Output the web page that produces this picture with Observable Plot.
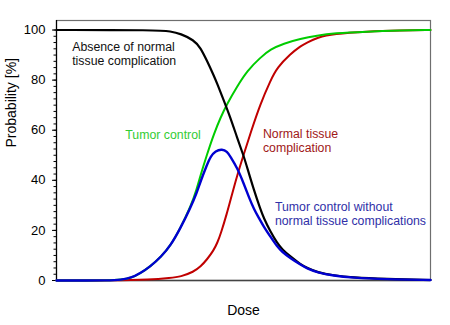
<!DOCTYPE html>
<html>
<head>
<meta charset="utf-8">
<script src="https://cdn.jsdelivr.net/npm/d3@7"></script>
<script src="https://cdn.jsdelivr.net/npm/@observablehq/plot@0.6"></script>
<style>
  html, body { margin: 0; padding: 0; background: #ffffff; }
  #chart { width: 450px; height: 325px; }
</style>
</head>
<body>
<div id="chart"></div>
<script>
// ---- Data (dose in arbitrary units 0..100, probability in %) ----
const tcpDose = [0, 15, 17, 20, 22.5, 25, 28, 30.5, 33, 36, 37.5, 38.5, 40.3, 42.1, 43.9, 45.6, 48.3, 51, 54.5, 57.2, 60.7, 65.2, 69.7, 74.1, 83, 92, 100];
const tcpProb = [0, 0, 0.3, 1, 3, 5.5, 9.5, 14, 20.5, 30, 36.5, 42, 50.6, 58.6, 65.2, 70.5, 77.5, 83.8, 89, 92.3, 94.6, 96.5, 97.8, 98.7, 99.4, 99.8, 100];

const ntcpDose = [0, 15, 25, 30.5, 33.2, 36.7, 38.5, 40.3, 42, 43, 44, 45.6, 46.5, 48.3, 50.1, 51.9, 54.5, 57.2, 59, 62.6, 65.2, 67, 69.7, 74.1, 83, 92, 100];
const ntcpProb = [0, 0, 0.3, 1, 1.5, 3.5, 5.5, 8.5, 12, 15, 19, 27, 32, 42, 50.5, 59, 70.5, 79.8, 85, 90.5, 93.5, 95, 97, 98.5, 99.4, 99.8, 100];

const absDose = [0, 27, 30.5, 33.2, 36.7, 38.5, 40.3, 42, 43, 44.7, 46.5, 48.3, 50.1, 51, 52.8, 54.5, 55.4, 57.2, 59, 60.3, 62.6, 65.2, 67, 69.7, 74.1, 79, 88, 100];
const absProb = [100, 100, 99.5, 98.5, 96, 93, 87.5, 82, 78.5, 72, 65, 57, 49.5, 45, 36, 28.5, 25, 19.5, 15, 12.5, 9.5, 6.5, 5, 3.3, 2, 1.2, 0.6, 0.2];

const uncDose = [0, 15, 17, 20, 22.5, 25, 28, 30.5, 33, 35.8, 37.5, 38.5, 40.3, 41.2, 42.5, 44.3, 45.6, 46.5, 48.3, 50.1, 51.5, 52.8, 54.1, 55.4, 57.2, 59, 60.3, 62.6, 65.6, 67, 69.7, 74.1, 79, 88, 100];
const uncProb = [0, 0, 0.3, 1, 3, 5.5, 9.5, 14, 20.5, 29, 35, 39.5, 46.5, 49.5, 51.8, 52.5, 51.5, 49.5, 45, 38.6, 33, 28.5, 25, 21.5, 17.5, 13.5, 11.5, 8.8, 6, 4.8, 3.2, 1.9, 1.1, 0.5, 0.2];

const yMajorTicks = [0, 20, 40, 60, 80, 100];
const yMinorTicks = d3.range(0, 100.01, 2.5);

const labelText = ["Absence of normal\ntissue complication", "Tumor control", "Normal tissue\ncomplication", "Tumor control without\nnormal tissue complications"];
const labelDose = [4.2, 18.4, 55.2, 58.4];
const labelProb = [90.7, 58.5, 56.0, 26.9];
const labelColor = ["#111111", "#33cc33", "#a01818", "#3030a8"];

const xTitle = "Dose";
const yTitle = "Probability [%]";

// ---- Build tables ----
const toRows = (xs, ys) => xs.map((d, i) => ({dose: d, p: ys[i]}));
const tcp = toRows(tcpDose, tcpProb);
const ntcp = toRows(ntcpDose, ntcpProb);
const abs = toRows(absDose, absProb);
const unc = toRows(uncDose, uncProb);
const labels = labelText.map((t, i) => ({t, dose: labelDose[i], p: labelProb[i], c: labelColor[i]}));

const font = "'Liberation Sans', Arial, Helvetica, sans-serif";

const chart = Plot.plot({
  width: 450,
  height: 325,
  marginLeft: 56,
  marginRight: 20,
  marginTop: 20,
  marginBottom: 45,
  style: {fontFamily: font, fontSize: "13px", background: "#ffffff", color: "#000"},
  x: {domain: [0, 100], axis: null},
  y: {domain: [0, 103.8], axis: null},
  marks: [
    Plot.frame({stroke: "#6e6e6e", strokeWidth: 1.2}),
    Plot.ruleY([0], {stroke: "#444", strokeWidth: 1.4}),
    Plot.axisY({ticks: yMinorTicks, tickSize: 2.5, tickFormat: () => "", label: null, stroke: "#000"}),
    Plot.axisY({ticks: yMajorTicks, tickSize: 4, tickPadding: 7, label: null, fontSize: 13, stroke: "#000"}),
    Plot.ruleX([0], {stroke: "#000", strokeWidth: 1.2}),
    Plot.line(ntcp, {x: "dose", y: "p", stroke: "#c00000", strokeWidth: 2, curve: "basis"}),
    Plot.line(tcp, {x: "dose", y: "p", stroke: "#00cc00", strokeWidth: 2, curve: "basis"}),
    Plot.line(abs, {x: "dose", y: "p", stroke: "#000000", strokeWidth: 2.2, curve: "basis"}),
    Plot.line(unc, {x: "dose", y: "p", stroke: "#0000d0", strokeWidth: 2.4, curve: "basis"}),
    Plot.text(labels, {x: "dose", y: "p", text: "t", fill: "c", textAnchor: "start", lineAnchor: "middle", lineHeight: 1.17, fontSize: 12.3}),
    Plot.text([yTitle], {frameAnchor: "left", dx: -45, dy: -3, rotate: -90, fontSize: 14, fill: "#000"}),
    Plot.text([xTitle], {frameAnchor: "bottom", dy: 34, fontSize: 14, fill: "#000"})
  ]
});
document.getElementById("chart").appendChild(chart);
</script>
</body>
</html>
